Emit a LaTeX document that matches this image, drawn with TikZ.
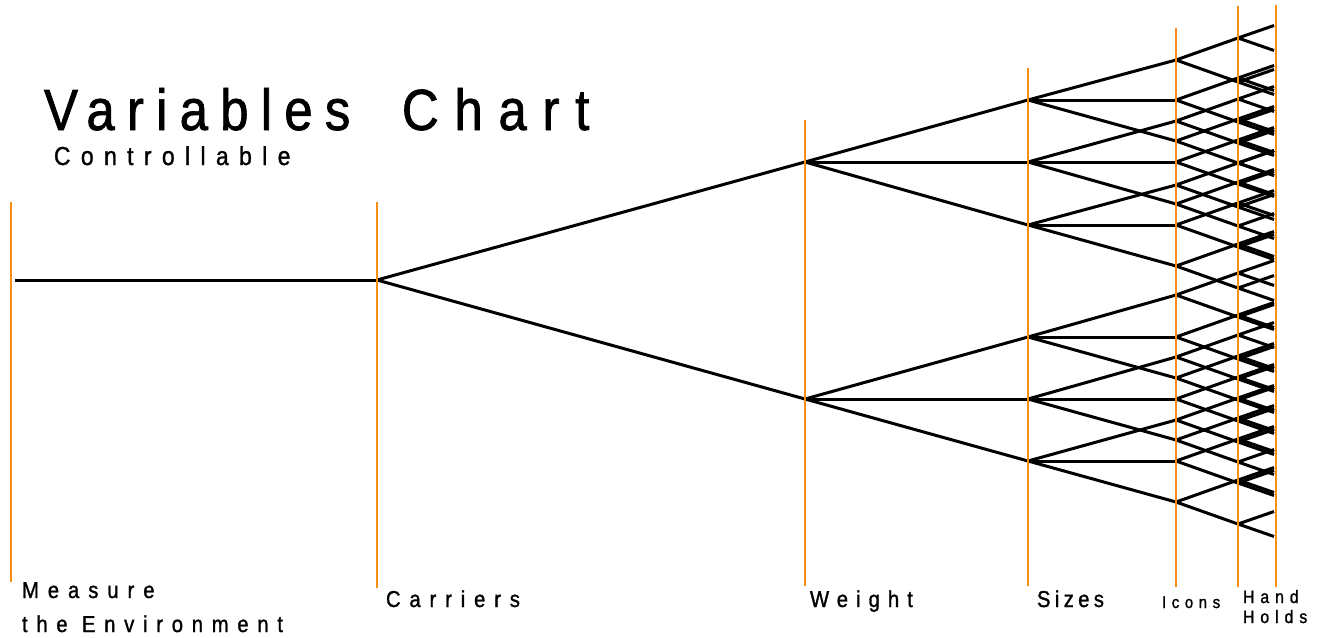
\documentclass[tikz,border=0pt]{standalone}
\usepackage{fontspec}
\newfontfamily\chartfont[FakeStretch=0.88,FakeBold=1.2]{Liberation Sans}
\definecolor{axisorange}{RGB}{247,142,22}
\tikzset{
  branch/.style={line width=3pt, black},
  axis/.style={line width=1.9pt, axisorange},
  lbl/.style={anchor=base west, inner sep=0pt, outer sep=0pt},
}
\newcommand\spaced[3]{{\chartfont\fontsize{#1}{#1}\selectfont\addfontfeatures{LetterSpace=#2}#3}}
\begin{document}
\begin{tikzpicture}[x=1pt,y=-1pt]
\useasboundingbox (0,0) rectangle (1319,637);

% ---- tree: root and first two levels
\coordinate (root) at (15,280);
\coordinate (car) at (377,280);
\coordinate (w1) at (805,162);
\coordinate (w2) at (805,399);
\draw[branch] (root) -- (car);
\draw[branch] (car) -- (w1);
\draw[branch] (car) -- (w2);

% ---- sizes
\foreach \n/\y/\p in {1/100/1, 2/162/1, 3/225/1, 4/337/2, 5/399/2, 6/461/2} {
  \coordinate (s\n) at (1028,\y);
  \draw[branch] (w\p) -- (s\n);
}

% ---- icons, hand holds and their end branches
\foreach \n/\y/\p in {1/60/1, 2/100/1, 3/141/1, 4/121/2, 5/162/2, 6/204/2,
                      7/185/3, 8/225/3, 9/266/3, 10/295/4, 11/337/4, 12/378/4,
                      13/357/5, 14/399/5, 15/440/5, 16/420/6, 17/461/6, 18/502/6} {
  \coordinate (ic\n) at (1176,\y);
  \draw[branch] (s\p) -- (ic\n);
  \coordinate (hu\n) at (1238,\y-22);
  \coordinate (hd\n) at (1238,\y+22);
  \draw[branch] (ic\n) -- (hu\n);
  \draw[branch] (ic\n) -- (hd\n);
  \coordinate (euu\n) at (1274,\y-34.5);
  \coordinate (eud\n) at (1274,\y-9.5);
  \coordinate (edu\n) at (1274,\y+9.5);
  \coordinate (edd\n) at (1274,\y+34.5);
  \draw[branch] (hu\n) -- (euu\n);
  \draw[branch] (hu\n) -- (eud\n);
  \draw[branch] (hd\n) -- (edu\n);
  \draw[branch] (hd\n) -- (edd\n);
}

% ---- vertical level markers
\draw[axis] (11,202) -- (11,582);
\draw[axis] (377,202) -- (377,588);
\draw[axis] (805,120) -- (805,586);
\draw[axis] (1028,68) -- (1028,586);
\draw[axis] (1176,28) -- (1176,587);
\draw[axis] (1238,6) -- (1238,587);
\draw[axis] (1276,5) -- (1276,587);

% ---- titles
\node[lbl] (title) at (44,130)
  {\makebox[358pt][l]{\spaced{58}{21}{Variables}}\spaced{58}{27}{Chart}};
\node[lbl] (sub) at (54,165) {\spaced{26}{40}{Controllable}};

% ---- level labels
\node[lbl] (l1a) at (22,598) {\spaced{23}{39}{Measure}};
\node[lbl] (l1b) at (22,632) {\spaced{23}{38}{the Environment}};
\node[lbl] (l2) at (386,607) {\spaced{23}{38.5}{Carriers}};
\node[lbl] (l3) at (810,607) {\spaced{23}{35}{Weight}};
\node[lbl] (l4) at (1037,607) {\spaced{23}{19}{Sizes}};
\node[lbl] (l5) at (1162,608) {\spaced{17}{33}{Icons}};
\node[lbl] (l6a) at (1243,603) {\spaced{18}{33}{Hand}};
\node[lbl] (l6b) at (1243,623) {\spaced{18}{33}{Holds}};
\end{tikzpicture}
\end{document}
